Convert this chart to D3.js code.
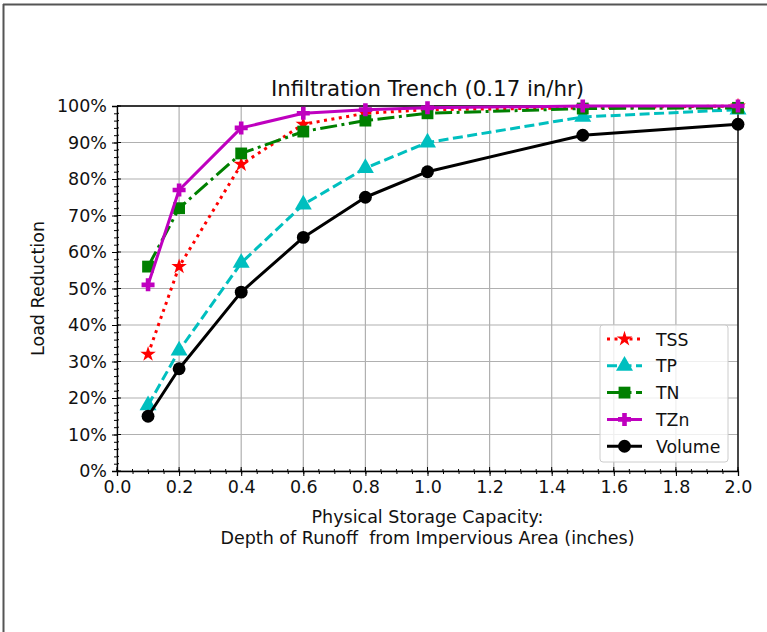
<!DOCTYPE html>
<html><head><meta charset="utf-8">
<script src="https://cdn.jsdelivr.net/npm/d3@7"></script>
<style>body{margin:0;background:#fff;} svg{display:block;font-family:"DejaVu Sans",sans-serif;}</style>
</head><body>
<svg id="c" width="767" height="632"></svg>
<script>
const xValues = [0.1, 0.2, 0.4, 0.6, 0.8, 1.0, 1.5, 2.0];
const tss    = [32, 56, 84, 95, 98, 99, 99.5, 100];
const tp     = [18, 33, 57, 73, 83, 90, 97, 99];
const tn     = [56, 72, 87, 93, 96, 98, 99.3, 99.5];
const tzn    = [51, 77, 94, 98, 99, 99.5, 100, 100];
const volume = [15, 28, 49, 64, 75, 82, 92, 95];
const seriesNames = ["TSS", "TP", "TN", "TZn", "Volume"];
const xTicks = [0, 0.2, 0.4, 0.6, 0.8, 1.0, 1.2, 1.4, 1.6, 1.8, 2.0];
const yTicks = [0, 10, 20, 30, 40, 50, 60, 70, 80, 90, 100];
const title = "Infiltration Trench (0.17 in/hr)";
const xLabel1 = "Physical Storage Capacity:";
const xLabel2 = "Depth of Runoff  from Impervious Area (inches)";
const yLabel = "Load Reduction";

const svg = d3.select("#c");
// frame
svg.append("line").attr("x1",3.5).attr("x2",3.5).attr("y1",4).attr("y2",632).attr("stroke","#555").attr("stroke-width",2);
svg.append("line").attr("x1",3).attr("x2",767).attr("y1",4.5).attr("y2",4.5).attr("stroke","#555").attr("stroke-width",2);

const L=117, R=738, T=106, B=471;
const x = d3.scaleLinear().domain([0,2]).range([L,R]);
const y = d3.scaleLinear().domain([0,100]).range([B,T]);

// grid
const g = svg.append("g");
g.selectAll(".gx").data(xTicks).join("line").attr("x1",d=>x(d)).attr("x2",d=>x(d)).attr("y1",T).attr("y2",B).attr("stroke","#b0b0b0").attr("stroke-width",1.2);
g.selectAll(".gy").data(yTicks).join("line").attr("y1",d=>y(d)).attr("y2",d=>y(d)).attr("x1",L).attr("x2",R).attr("stroke","#b0b0b0").attr("stroke-width",1.2);

// axes
const xMinor = d3.range(0, 2.0001, 0.05);
const yMinor = d3.range(0, 100.001, 2);
const ax = svg.append("g").attr("transform",`translate(0,${B})`);
ax.call(d3.axisBottom(x).tickValues(xTicks).tickFormat(d3.format(".1f")).tickSize(5).tickPadding(5));
ax.append("g").call(d3.axisBottom(x).tickValues(xMinor).tickFormat("").tickSize(3)).select(".domain").remove();
const ay = svg.append("g").attr("transform",`translate(${L},0)`);
ay.call(d3.axisLeft(y).tickValues(yTicks).tickFormat(d=>d+"%").tickSize(5).tickPadding(5));
ay.append("g").call(d3.axisLeft(y).tickValues(yMinor).tickFormat("").tickSize(3)).select(".domain").remove();
// inward ticks
svg.selectAll(".xin").data(xTicks).join("line").attr("x1",d=>x(d)).attr("x2",d=>x(d)).attr("y1",B).attr("y2",B-4).attr("stroke","#000").attr("stroke-width",1);
svg.selectAll(".xmi").data(xMinor).join("line").attr("x1",d=>x(d)).attr("x2",d=>x(d)).attr("y1",B).attr("y2",B-2).attr("stroke","#000").attr("stroke-width",1);
svg.selectAll(".yin").data(yTicks).join("line").attr("y1",d=>y(d)).attr("y2",d=>y(d)).attr("x1",L).attr("x2",L+4).attr("stroke","#000").attr("stroke-width",1);
svg.selectAll(".ymi").data(yMinor).join("line").attr("y1",d=>y(d)).attr("y2",d=>y(d)).attr("x1",L).attr("x2",L+2).attr("stroke","#000").attr("stroke-width",1);
svg.selectAll(".tick text").attr("font-size",17.5).attr("fill","#111").attr("font-family","DejaVu Sans");
svg.selectAll(".domain").attr("stroke","#000").attr("stroke-width",1.3);
svg.selectAll(".tick line").attr("stroke","#000");

// spines top/right
svg.append("line").attr("x1",L).attr("x2",R).attr("y1",T).attr("y2",T).attr("stroke","#000").attr("stroke-width",1.3);
svg.append("line").attr("x1",R).attr("x2",R).attr("y1",T).attr("y2",B).attr("stroke","#000").attr("stroke-width",1.3);

// series
const styles = {
  TSS:{data:tss,color:"#ff0000",dash:"3,4.5",marker:"star"},
  TP:{data:tp,color:"#00bfbf",dash:"10,4.5",marker:"tri"},
  TN:{data:tn,color:"#008000",dash:"17,4.5,3,4.5",marker:"square"},
  TZn:{data:tzn,color:"#bf00bf",dash:null,marker:"plus"},
  Volume:{data:volume,color:"#000000",dash:null,marker:"circle"}
};
const symbols = {
  star:d3.symbol(d3.symbolStar,75),
  tri:d3.symbol(d3.symbolTriangle,125),
  square:d3.symbol(d3.symbolSquare,140),
  circle:d3.symbol(d3.symbolCircle,130)
};
function drawMarker(sel, m, color){
  if(m==="plus"){
    sel.append("path").attr("d","M-6.5,-2.3H-2.3V-6.5H2.3V-2.3H6.5V2.3H2.3V6.5H-2.3V2.3H-6.5Z").attr("fill",color);
  } else {
    sel.append("path").attr("d",symbols[m]()).attr("fill",color);
  }
}
const line = d3.line().x(d=>x(d[0])).y(d=>y(d[1]));
const plot = svg.append("g");
seriesNames.forEach(name=>{
  const s = styles[name];
  const pts = xValues.map((xv,i)=>[xv,s.data[i]]);
  const p = plot.append("path").attr("d",line(pts)).attr("fill","none").attr("stroke",s.color).attr("stroke-width",3).attr("stroke-linejoin","round");
  if(s.dash) p.attr("stroke-dasharray",s.dash);
  pts.forEach(pt=>{
    const gm = plot.append("g").attr("transform",`translate(${x(pt[0])},${y(pt[1])})`);
    drawMarker(gm, s.marker, s.color);
  });
});

// title / labels
svg.append("text").attr("x",(L+R)/2).attr("y",96).attr("text-anchor","middle").attr("font-size",21.3).attr("fill","#111").text(title);
svg.append("text").attr("x",(L+R)/2).attr("y",523).attr("text-anchor","middle").attr("font-size",17.5).attr("fill","#111").text(xLabel1);
svg.append("text").attr("x",(L+R)/2).attr("y",544).attr("text-anchor","middle").attr("font-size",17.5).attr("fill","#111").attr("xml:space","preserve").style("white-space","pre").text(xLabel2);
svg.append("text").attr("transform",`translate(44,${(T+B)/2}) rotate(-90)`).attr("text-anchor","middle").attr("font-size",17.5).attr("fill","#111").text(yLabel);

// legend
const lg = svg.append("g");
lg.append("rect").attr("x",600).attr("y",325).attr("width",128).attr("height",137).attr("rx",3).attr("fill","rgba(255,255,255,0.8)").attr("stroke","#ccc");
seriesNames.forEach((name,i)=>{
  const s = styles[name];
  const yy = 339 + i*26.8;
  const ln = lg.append("line").attr("x1",607).attr("x2",642).attr("y1",yy).attr("y2",yy).attr("stroke",s.color).attr("stroke-width",3);
  if(s.dash) ln.attr("stroke-dasharray",s.dash);
  const gm = lg.append("g").attr("transform",`translate(624.5,${yy})`);
  drawMarker(gm, s.marker, s.color);
  lg.append("text").attr("x",656).attr("y",yy+6.5).attr("font-size",17.3).attr("fill","#111").text(name);
});
</script>
</body></html>
